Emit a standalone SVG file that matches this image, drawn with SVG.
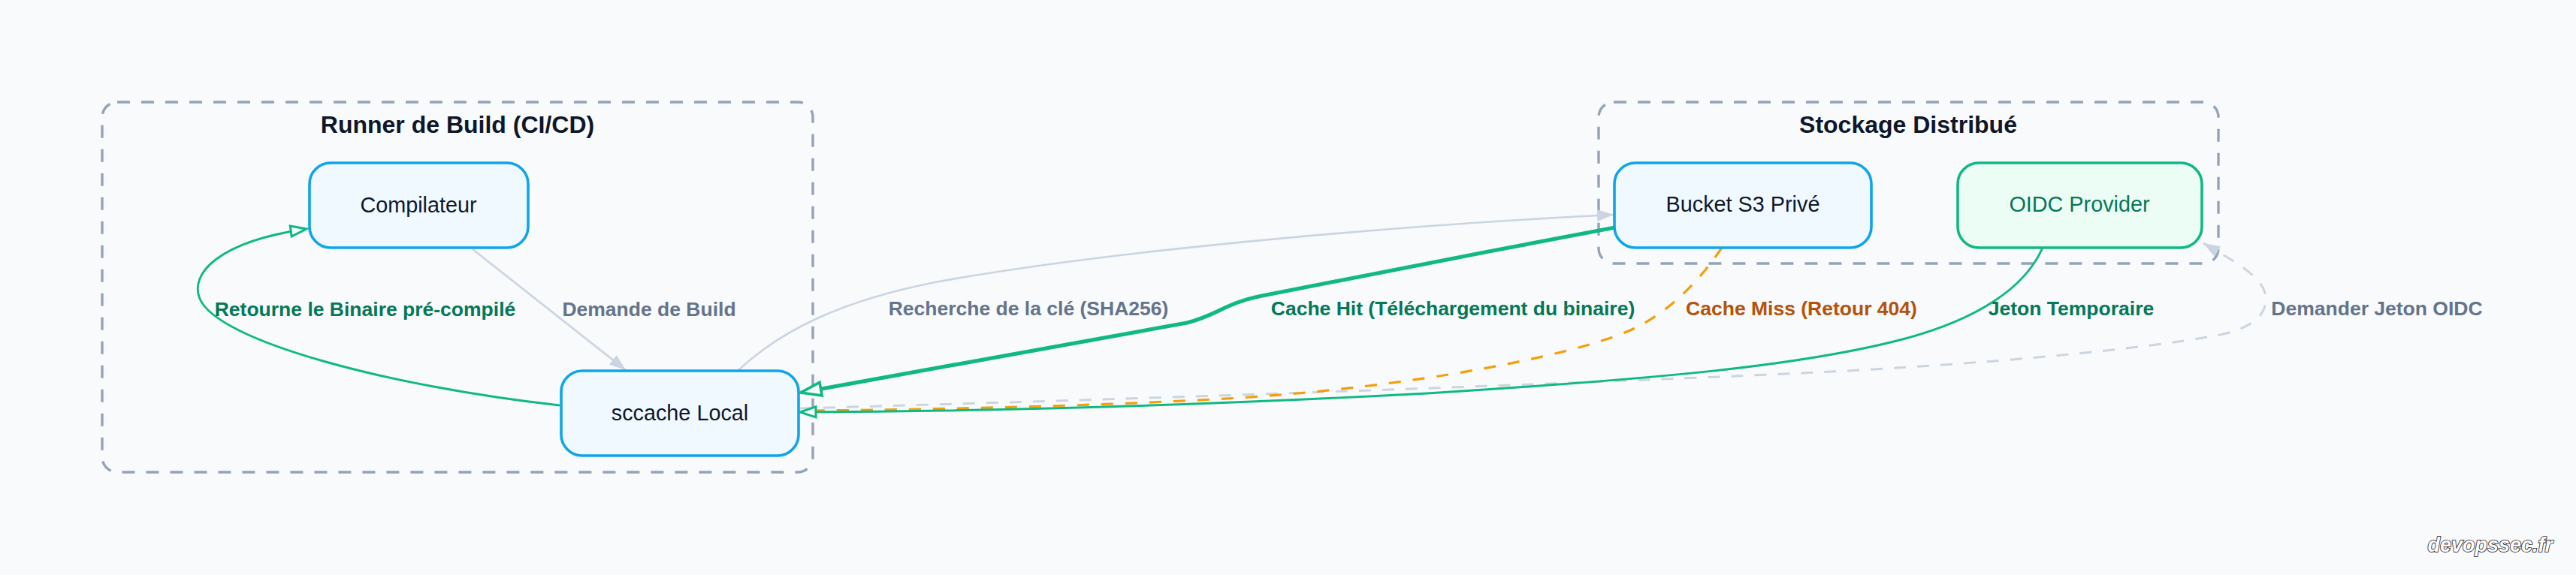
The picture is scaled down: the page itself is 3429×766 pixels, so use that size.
<svg xmlns="http://www.w3.org/2000/svg" width="3429" height="766" viewBox="0 0 3429 766">
<style>
.bg{fill:#f8fafc}
.cluster{fill:none;stroke:#94a3b8;stroke-width:3.4;stroke-dasharray:17 15}
.ctitle{font-family:"Liberation Sans",Arial,sans-serif;font-weight:bold;font-size:32px;fill:#0f172a;text-anchor:middle}
.nblue{fill:#f0f9ff;stroke:#0ea5e9;stroke-width:3.6}
.ngreen{fill:#ecfdf5;stroke:#10b981;stroke-width:3.6}
.ntext{font-family:"Liberation Sans",Arial,sans-serif;font-size:28.8px;fill:#0f172a;text-anchor:middle}
.ntextg{fill:#047857}
.e{fill:none}
.egrey{stroke:#cbd5e1;stroke-width:2.7}
.egreydash{stroke:#cbd5e1;stroke-width:3;stroke-dasharray:16 15}
.egreen{stroke:#10b981;stroke-width:2.9}
.egreenthick{stroke:#10b981;stroke-width:5.2}
.eorange{stroke:#f59e0b;stroke-width:3.2;stroke-dasharray:16 16}
.lbl{font-family:"Liberation Sans",Arial,sans-serif;font-weight:bold;font-size:26.5px;text-anchor:middle}
.lgrey{fill:#64748b}
.lgreen{fill:#047857}
.lorange{fill:#b45309}
.wm{font-family:"Liberation Sans",Arial,sans-serif;font-weight:bold;font-style:italic;font-size:27px;fill:#ffffff;stroke:#111111;stroke-width:1.6;paint-order:stroke;text-anchor:end}
</style>
<defs>
<marker id="arrGrey" markerUnits="userSpaceOnUse" markerWidth="24" markerHeight="18" refX="22" refY="8" orient="auto">
<path d="M0,0 L22,8 L0,16 z" fill="#cbd5e1"/>
</marker>
<marker id="arrGreenOpen" markerUnits="userSpaceOnUse" markerWidth="28" markerHeight="22" refX="24" refY="10" orient="auto">
<path d="M3,3 L24,10 L3,17 z" fill="#f8fafc" stroke="#10b981" stroke-width="3"/>
</marker>
<marker id="arrGreenOpenThick" markerUnits="userSpaceOnUse" markerWidth="34" markerHeight="26" refX="30" refY="12" orient="auto">
<path d="M3,3 L30,12 L3,21 z" fill="#f8fafc" stroke="#10b981" stroke-width="3.6"/>
</marker>
</defs>
<rect class="bg" x="0" y="0" width="3429" height="766"/>

<g id="cluster-runner">
<rect class="cluster" x="136" y="136" width="946" height="493" rx="20"/>
<text class="ctitle" x="609" y="177">Runner de Build (CI/CD)</text>
</g>
<g id="cluster-stockage">
<rect class="cluster" x="2128" y="136" width="825" height="215" rx="20"/>
<text class="ctitle" x="2540" y="177">Stockage Distribué</text>
</g>

<g id="connectors">
<path class="e egrey" d="M629,332 L833,493" marker-end="url(#arrGrey)"/>
<path class="e egreen" d="M745,540 C520,515 290,455 266,398 C252,365 290,322 408,305" marker-end="url(#arrGreenOpen)"/>
<path class="e egrey" d="M983,493 C1040,440 1120,400 1250,375 C1500,330 1900,298 2148,286" marker-end="url(#arrGrey)"/>
<path class="e egreydash" d="M1065,544 C1500,532 2000,515 2400,497 C2650,485 2850,465 2950,447 C3010,436 3020,410 3015,390 C3008,365 2965,343 2933,324" marker-end="url(#arrGrey)"/>
<path class="e eorange" d="M2292,330 C2265,370 2225,415 2170,440 C2090,475 1880,515 1650,530 C1450,542 1200,546 1080,547"/>
<path class="e egreen" d="M2719,330 C2695,385 2630,425 2540,450 C2400,488 2200,505 1900,524 C1600,540 1300,548 1065,549" marker-end="url(#arrGreenOpen)"/>
<path class="e egreenthick" d="M2150,303 C1990,333 1780,374 1680,394 C1630,404 1620,420 1580,430 L1066,523" marker-end="url(#arrGreenOpenThick)"/>
</g>

<g id="edge-labels">
<text class="lbl lgreen" x="486" y="421">Retourne le Binaire pré-compilé</text>
<text class="lbl lgrey" x="864" y="421">Demande de Build</text>
<text class="lbl lgrey" x="1369" y="420">Recherche de la clé (SHA256)</text>
<text class="lbl lgreen" x="1934" y="420">Cache Hit (Téléchargement du binaire)</text>
<text class="lbl lorange" x="2398" y="420">Cache Miss (Retour 404)</text>
<text class="lbl lgreen" x="2757" y="420">Jeton Temporaire</text>
<text class="lbl lgrey" x="3164" y="420">Demander Jeton OIDC</text>
</g>

<g id="node-compilateur">
<rect class="nblue" x="412" y="217" width="291" height="113" rx="28"/>
<text class="ntext" x="557" y="283">Compilateur</text>
</g>
<g id="node-sccache">
<rect class="nblue" x="747" y="494" width="316" height="113" rx="28"/>
<text class="ntext" x="905" y="560">sccache Local</text>
</g>
<g id="node-bucket">
<rect class="nblue" x="2149" y="217" width="342" height="113" rx="28"/>
<text class="ntext" x="2320" y="282">Bucket S3 Privé</text>
</g>
<g id="node-oidc">
<rect class="ngreen" x="2606" y="217" width="325" height="113" rx="28"/>
<text class="ntext ntextg" x="2768" y="282">OIDC Provider</text>
</g>

<text class="wm" x="3398" y="735">devopssec.fr</text>
</svg>
